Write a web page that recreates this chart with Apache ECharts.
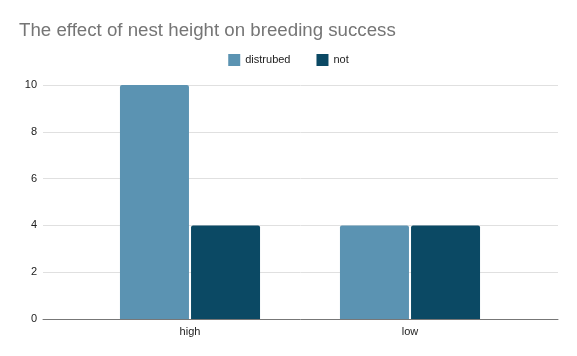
<!DOCTYPE html>
<html><head><meta charset="utf-8">
<script src="https://cdn.jsdelivr.net/npm/echarts@6/dist/echarts.min.js"></script>
<style>html,body{margin:0;padding:0;background:#fff}#c{width:577px;height:356px}</style>
</head><body><div id="c"></div>
<script>
const categories = ['high', 'low'];
const distrubed = [10, 4];
const notDisturbed = [4, 4];
const yTicks = [0, 2, 4, 6, 8, 10];

const F = 'Arial, "Liberation Sans", sans-serif';
const chart = echarts.init(document.getElementById('c'));
chart.setOption({
  animation: false,
  title: { text: 'The effect of nest height on breeding success', left: 14, top: 16,
    textStyle: { fontFamily: F, fontSize: 18.7, fontWeight: 'normal', color: '#757575' } },
  legend: { top: 49, left: 'center', itemWidth: 12, itemHeight: 12, itemGap: 26,
    icon: 'rect', textStyle: { fontFamily: F, fontSize: 11, color: '#222' },
    data: ['distrubed', 'not'] },
  grid: [
    { left: 43, right: 19, top: 85, bottom: 37 },
    { left: 80, right: 57, top: 85, bottom: 37 }
  ],
  xAxis: [
    { type: 'category', gridIndex: 0, data: categories, axisTick: { show: false },
      axisLabel: { show: false }, axisLine: { lineStyle: { color: '#777', width: 1 } } },
    { type: 'category', gridIndex: 1, data: categories, axisTick: { show: false },
      axisLine: { show: false },
      axisLabel: { fontFamily: F, fontSize: 11, color: '#222', margin: 7 } }
  ],
  yAxis: [
    { type: 'value', gridIndex: 0, min: yTicks[0], max: yTicks[yTicks.length - 1], interval: 2,
      axisLabel: { fontFamily: F, fontSize: 11, color: '#222', margin: 6 },
      splitLine: { lineStyle: { color: '#e0e0e0' } }, axisLine: { show: false }, axisTick: { show: false } },
    { type: 'value', gridIndex: 1, min: 0, max: 10, interval: 2, show: false,
      splitLine: { show: false } }
  ],
  series: [
    { name: 'distrubed', type: 'bar', xAxisIndex: 1, yAxisIndex: 1, data: distrubed,
      barWidth: 69, barGap: '3%', itemStyle: { color: '#5b93b2', borderRadius: [2, 2, 0, 0] } },
    { name: 'not', type: 'bar', xAxisIndex: 1, yAxisIndex: 1, data: notDisturbed,
      barWidth: 69, barGap: '3%', itemStyle: { color: '#0b4964', borderRadius: [2, 2, 0, 0] } }
  ]
});
</script></body></html>
